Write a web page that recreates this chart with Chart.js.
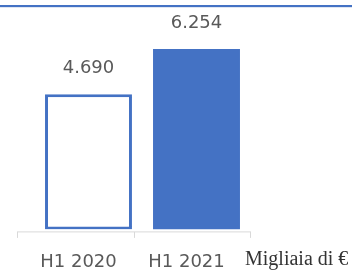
<!DOCTYPE html>
<html>
<head>
<meta charset="utf-8">
<script src="https://cdn.jsdelivr.net/npm/chart.js@4/dist/chart.umd.min.js"></script>
<style>
  html, body { margin: 0; padding: 0; background: #fff; }
  #wrap { width: 352px; height: 273px; position: relative; }
</style>
</head>
<body>
<div id="wrap"><canvas id="c"></canvas></div>
<script>
// Half-year revenue, thousands of euro
const PERIODS = ["H1 2020", "H1 2021"];
const VALUES = [4690, 6254];
const VALUE_TEXT = ["4.690", "6.254"];
const UNIT = "Migliaia di €";

const BLUE = "#4472C4";

// Frame bits the library has no option for: top rule, axis line with
// Excel-style tick marks, value labels and the unit note.
const decor = {
  id: "decor",
  beforeDraw(chart) {
    const ctx = chart.ctx;
    ctx.save();
    ctx.fillStyle = BLUE;
    ctx.fillRect(0, 5, chart.width, 2);
    ctx.fillStyle = "#dfe6f3";
    ctx.fillRect(0, 7, chart.width, 1);
    ctx.restore();
  },
  afterDraw(chart) {
    const ctx = chart.ctx;
    const y0 = chart.scales.y.getPixelForValue(0) + 2.5;
    ctx.save();
    ctx.strokeStyle = "#d9d9d9";
    ctx.lineWidth = 1;
    ctx.beginPath();
    ctx.moveTo(17, y0); ctx.lineTo(251, y0);
    [17.5, 134.5, 250.5].forEach((x) => { ctx.moveTo(x, y0); ctx.lineTo(x, y0 + 6); });
    ctx.stroke();

    ctx.fillStyle = "#595959";
    ctx.font = "18px 'DejaVu Sans'";
    ctx.textAlign = "center";
    ctx.textBaseline = "middle";
    chart.getDatasetMeta(0).data.forEach((bar, i) => {
      ctx.fillText(VALUE_TEXT[i], bar.x, bar.y - 26);
    });

    ctx.fillStyle = "#333";
    ctx.font = "20px 'Liberation Serif'";
    ctx.textAlign = "left";
    ctx.fillText(UNIT, 245, 260);
    ctx.restore();
  },
};

new Chart(document.getElementById("c"), {
  type: "bar",
  data: {
    labels: PERIODS,
    datasets: [{
      data: VALUES,
      backgroundColor: ["#ffffff", BLUE],
      borderColor: BLUE,
      borderWidth: [3, 0],
      borderSkipped: false,
      barPercentage: 0.805,
      categoryPercentage: 1,
    }],
  },
  options: {
    responsive: true,
    maintainAspectRatio: false,
    animation: false,
    layout: { padding: { left: 34.5, right: 101.5, top: 27.6, bottom: -14 } },
    plugins: { legend: { display: false }, tooltip: { enabled: false } },
    scales: {
      x: {
        grid: { display: false },
        border: { display: false },
        ticks: { color: "#595959", font: { family: "DejaVu Sans", size: 18 }, padding: 14, labelOffset: -10 },
      },
      y: { display: false, min: 0, max: 7000 },
    },
  },
  plugins: [decor],
});
</script>
</body>
</html>
